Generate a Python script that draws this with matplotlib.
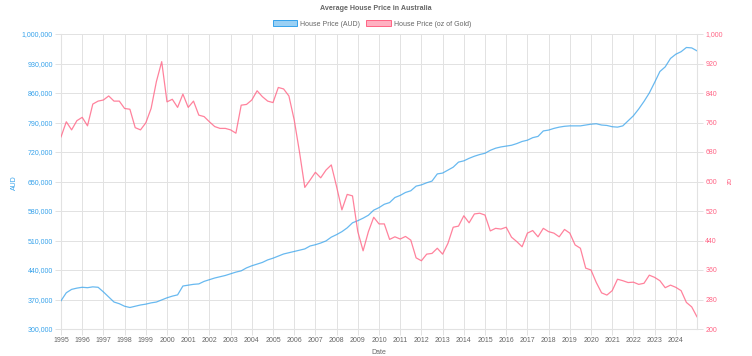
import numpy as np
import matplotlib
matplotlib.use("Agg")
import matplotlib.pyplot as plt
from matplotlib.patches import Patch
from matplotlib.ticker import FuncFormatter

plt.rcParams['font.family'] = ['Liberation Sans', 'DejaVu Sans']

# quarterly, 1995 Q1 .. 2025 Q1
start_year = 1995
aud = [367, 386, 394, 397, 399, 398, 400, 399, 388, 376, 364, 360, 354, 351, 354, 357,
       359, 362, 364, 369, 374, 378, 381, 402, 404, 406, 407, 413, 417, 421, 424, 427,
       431, 435, 438, 445, 450, 454, 458, 464, 468, 473, 478, 481, 484, 487, 490, 497,
       500, 504, 509, 518, 524, 531, 540, 552, 557, 563, 570, 582, 588, 596, 600, 612,
       617, 624, 628, 639, 642, 647, 651, 668, 670, 677, 684, 696, 699, 705, 710, 714,
       717, 724, 729, 732, 734, 736, 740, 745, 748, 754, 757, 770, 772, 776, 779, 781,
       782, 782, 782, 784, 786, 787, 784, 783, 780, 779, 782, 794, 806, 822, 840, 860,
       885, 911, 922, 942, 952, 958, 968, 967, 960]
gold_oz = [721, 762, 740, 765, 774, 751, 810, 818, 821, 832, 818, 818, 798, 796, 746, 740,
           759, 798, 871, 925, 816, 823, 801, 837, 801, 818, 780, 776, 762, 749, 744, 744,
           740, 731, 807, 809, 821, 846, 830, 818, 814, 855, 851, 832, 767, 680, 584, 604,
           625, 610, 631, 645, 586, 523, 565, 561, 464, 412, 464, 503, 485, 485, 443, 450,
           444, 451, 441, 393, 385, 403, 405, 419, 403, 432, 476, 479, 507, 488, 512, 514,
           509, 466, 473, 471, 476, 449, 437, 423, 460, 467, 450, 473, 464, 460, 450, 470,
           460, 428, 419, 365, 360, 326, 298, 292, 304, 335, 331, 326, 327, 321, 324, 346,
           340, 331, 312, 319, 313, 304, 272, 260, 233]
years = list(range(1995, 2025))

aud_vals = np.array(aud) * 1000
t = start_year + np.arange(len(aud)) / 4.0

blue = (54/255, 162/255, 235/255)
pink = (255/255, 99/255, 132/255)
grey = '#666666'
grid = '#e2e2e2'
fs = 5.0

fig = plt.figure(figsize=(7.52, 3.56), dpi=100)
ax = fig.add_axes([61/752, 1-329/356, (697-61)/752, (329-34)/356])
ax2 = ax.twinx()

ax.plot(t, aud_vals, color=blue, lw=0.9, alpha=0.75, zorder=3)
ax2.plot(t, gold_oz, color=pink, lw=0.9, alpha=0.8, zorder=3)

ax.set_xlim(t[0], t[-1])
ax.set_ylim(300000, 1000000)
ax2.set_ylim(200, 1000)
ax.set_yticks(np.arange(300000, 1000001, 70000))
ax2.set_yticks(np.arange(200, 1001, 80))
ax.set_xticks(years)
ax.set_xticklabels([str(y) for y in years])

ax.yaxis.set_major_formatter(FuncFormatter(lambda v, p: f"{int(v):,}"))
ax2.yaxis.set_major_formatter(FuncFormatter(lambda v, p: f"{int(v):,}"))

ax.grid(True, color=grid, lw=0.7)
ax.set_axisbelow(True)
for a in (ax, ax2):
    for s in a.spines.values():
        s.set_visible(False)
ax.spines['left'].set_visible(True)
ax.spines['left'].set_color(grid)
ax.spines['bottom'].set_visible(True)
ax.spines['bottom'].set_color(grid)
ax2.spines['right'].set_visible(True)
ax2.spines['right'].set_color(grid)

ax.tick_params(axis='y', colors=blue, labelsize=fs, length=4, width=0.7, pad=2, color=grid)
ax.tick_params(axis='x', colors=grey, labelsize=fs, length=4, width=0.7, pad=2, color=grid)
ax2.tick_params(axis='y', colors=pink, labelsize=fs, length=4, width=0.7, pad=2, color=grid)
for lab in ax.get_yticklabels():
    lab.set_color(blue)
for lab in ax2.get_yticklabels():
    lab.set_color(pink)
for lab in ax.get_xticklabels():
    lab.set_color(grey)

fig.text(14/752, 1-183/356, 'AUD', color=blue, fontsize=fs, rotation=90,
         ha='center', va='center')
fig.text(727/752, 1-182/356, 'oz', color=pink, fontsize=fs, rotation=270,
         ha='center', va='center')
fig.text(379/752, 1-352/356, 'Date', color=grey, fontsize=fs, ha='center', va='center')
fig.text(376/752, 1-8/356, 'Average House Price in Australia', color=grey,
         fontsize=5.1, fontweight='bold', ha='center', va='center')

handles = [Patch(facecolor=(*blue, 0.5), edgecolor=blue, lw=0.7),
           Patch(facecolor=(*pink, 0.5), edgecolor=pink, lw=0.7)]
fig.legend(handles, ['House Price (AUD)', 'House Price (oz of Gold)'],
           loc='center', bbox_to_anchor=(372/752, 1-24/356), ncol=2, frameon=False,
           fontsize=fs, handlelength=3.5, handleheight=0.9, handletextpad=0.45,
           columnspacing=0.9, labelcolor=grey)

fig.savefig('out.png', dpi=100)
